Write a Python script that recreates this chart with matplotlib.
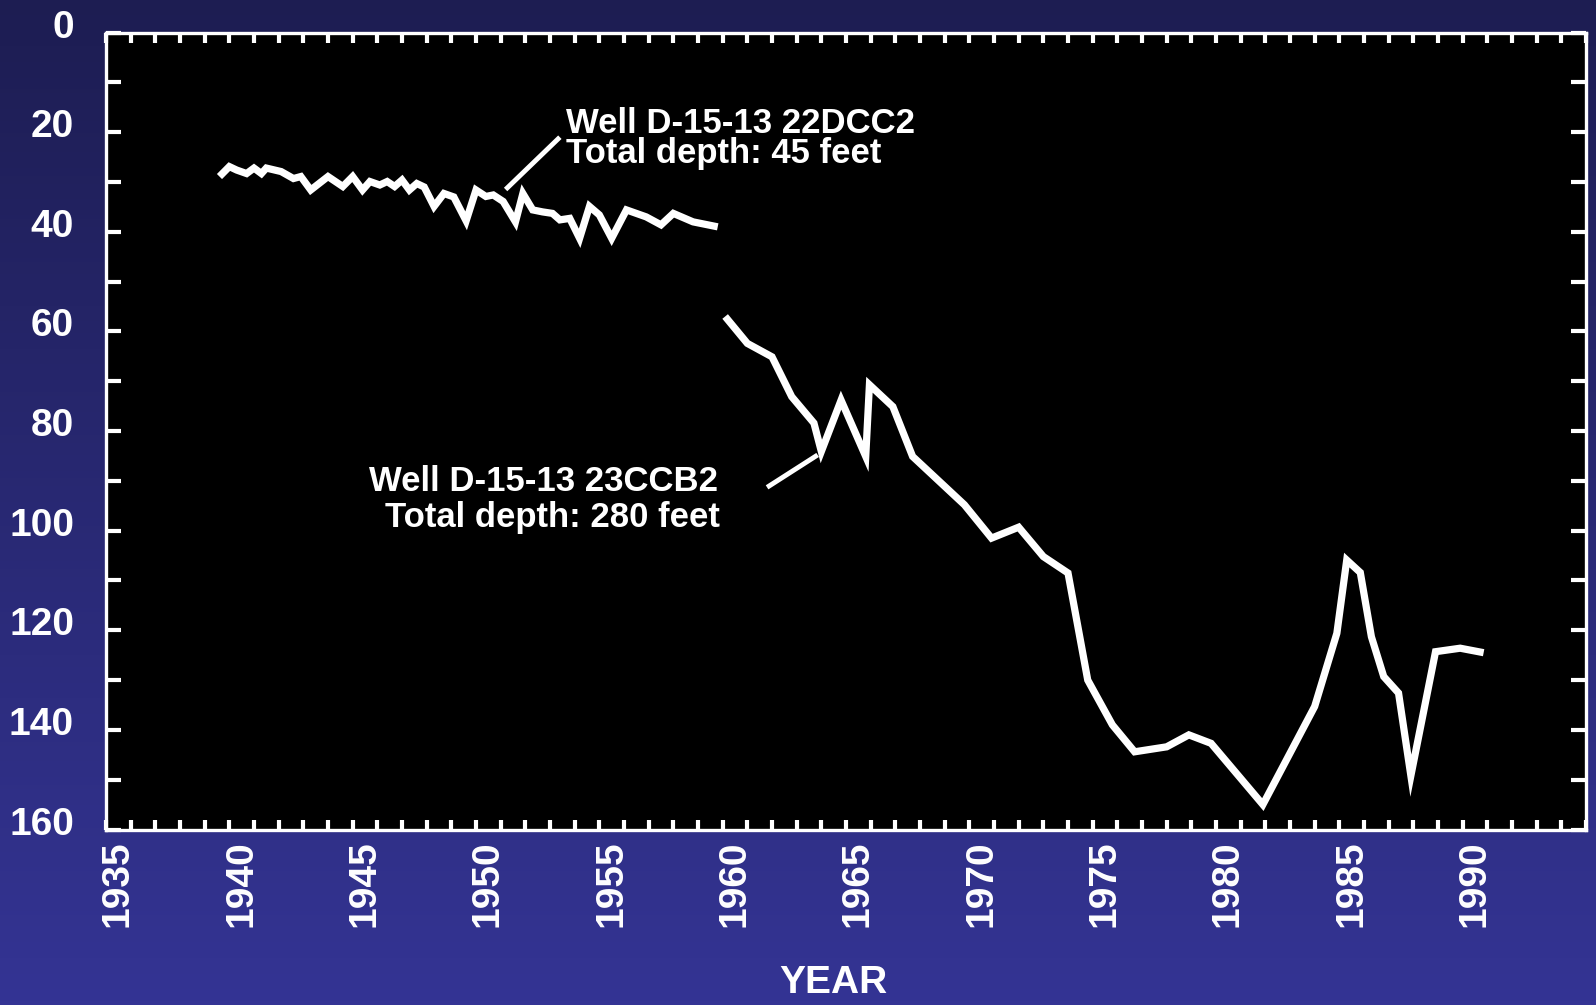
import numpy as np
import matplotlib
matplotlib.use("Agg")
import matplotlib.pyplot as plt
import matplotlib.transforms as mtransforms
from matplotlib.ticker import MultipleLocator

# Water level below land surface (feet) for two wells
years_22dcc2 = [1939.6, 1940.0, 1940.3, 1940.7, 1941.0, 1941.3, 1941.5, 1942.1, 1942.6,
                1942.9, 1943.3, 1944.0, 1944.6, 1945.0, 1945.4, 1945.7, 1946.1, 1946.4,
                1946.7, 1947.0, 1947.3, 1947.6, 1947.9, 1948.3, 1948.7, 1949.1, 1949.6,
                1950.0, 1950.4, 1950.7, 1951.1, 1951.6, 1951.9, 1952.3, 1952.7, 1953.1,
                1953.4, 1953.8, 1954.2, 1954.6, 1955.0, 1955.5, 1956.1, 1956.9, 1957.5,
                1958.0, 1958.8, 1959.8]
depth_22dcc2 = [28.9, 26.9, 27.6, 28.3, 27.2, 28.3, 27.2, 27.9, 29.3,
                28.9, 31.6, 28.9, 30.9, 28.9, 31.6, 29.9, 30.6, 29.9,
                30.9, 29.6, 31.6, 30.3, 31.0, 34.9, 32.3, 33.0, 37.8,
                31.6, 32.9, 32.6, 33.9, 38.0, 32.3, 35.6, 36.0, 36.3,
                37.6, 37.3, 41.3, 34.9, 36.6, 41.3, 35.6, 37.0, 38.6,
                36.3, 38.0, 39.0]

years_23ccb2 = [1960.1, 1961.0, 1962.0, 1962.8, 1963.7, 1964.0, 1964.8, 1965.8, 1965.95,
                1966.9, 1967.7, 1969.8, 1970.9, 1972.0, 1973.0, 1974.0, 1974.8, 1975.8,
                1976.7, 1978.0, 1978.9, 1979.8, 1981.9, 1984.0, 1984.9, 1985.3, 1985.85,
                1986.3, 1986.8, 1987.4, 1987.9, 1988.9, 1989.9, 1990.85]
depth_23ccb2 = [57.0, 62.4, 65.1, 73.1, 78.4, 84.1, 73.8, 85.1, 70.7,
                75.1, 85.1, 94.8, 101.5, 99.3, 105.2, 108.5, 130.0, 139.0,
                144.4, 143.4, 141.0, 142.7, 155.0, 135.3, 120.6, 105.9, 108.4,
                121.3, 129.3, 132.6, 149.2, 124.3, 123.6, 124.5]

x_ticks = [1935, 1940, 1945, 1950, 1955, 1960, 1965, 1970, 1975, 1980, 1985, 1990]
y_ticks = [0, 20, 40, 60, 80, 100, 120, 140, 160]

W, H, DPI = 1596, 1005, 100
fig = plt.figure(figsize=(W / DPI, H / DPI), dpi=DPI)

# vertical navy-to-blue backdrop
bg = fig.add_axes([0, 0, 1, 1], zorder=-10)
top_c = np.array([29, 29, 82]) / 255.0
bot_c = np.array([52, 52, 148]) / 255.0
t = np.linspace(0, 1, 256)[:, None]
grad = top_c[None, :] * (1 - t) + bot_c[None, :] * t
bg.imshow(grad[:, None, :], aspect="auto", extent=[0, 1, 0, 1], origin="upper")
bg.set_axis_off()

left, right = 106 / W, 1586 / W
bottom, top = 1 - 829.5 / H, 1 - 32.6 / H
ax = fig.add_axes([left, bottom, right - left, top - bottom])
ax.set_facecolor("black")

line_kw = dict(color="white", lw=5.2, solid_joinstyle="miter", solid_capstyle="butt")
ax.plot(years_22dcc2, depth_22dcc2, **line_kw)
ax.plot(years_23ccb2, depth_23ccb2, **line_kw)

ax.set_xlim(1935, 1995)
ax.set_ylim(160, 0)

for s in ax.spines.values():
    s.set_color("white")
    s.set_linewidth(2.4)

font = "Liberation Sans"
ax.xaxis.set_minor_locator(MultipleLocator(1))
ax.yaxis.set_minor_locator(MultipleLocator(10))
ax.set_xticks(x_ticks)
ax.set_xticklabels([str(v) for v in x_ticks], rotation=90,
                   fontsize=28, fontweight="bold", family=font, color="white")
ax.set_yticks(y_ticks)
ax.set_yticklabels([str(v) for v in y_ticks],
                   fontsize=28, fontweight="bold", family=font, color="white")

ax.tick_params(axis="x", which="both", direction="in", top=True, bottom=True,
               length=7.5, width=3, color="white", pad=8)
ax.tick_params(axis="y", which="both", direction="in", left=True, right=True,
               length=11, width=3, color="white", pad=23)

dx = mtransforms.ScaledTranslation(12 / DPI, 0, fig.dpi_scale_trans)
for lab in ax.get_xticklabels():
    lab.set_transform(lab.get_transform() + dx)
dy = mtransforms.ScaledTranslation(0, 5 / DPI, fig.dpi_scale_trans)
for lab in ax.get_yticklabels():
    lab.set_verticalalignment("center")
    lab.set_transform(lab.get_transform() + dy)

fig.text(833 / W, 1 - 983 / H, "YEAR", ha="center", va="center",
         fontsize=28, fontweight="bold", family=font, color="white")

# well labels with leader lines
txt_kw = dict(fontsize=25, fontweight="bold", family=font, color="white")
ax.text(1953.65, 18.2, "Well D-15-13 22DCC2", ha="left", va="center", **txt_kw)
ax.text(1953.65, 24.3, "Total depth: 45 feet", ha="left", va="center", **txt_kw)
ax.plot([1951.2, 1953.4], [31.5, 21.0], color="white", lw=3.5, solid_capstyle="butt")

ax.text(1959.8, 90.1, "Well D-15-13 23CCB2", ha="right", va="center", **txt_kw)
ax.text(1959.9, 97.3, "Total depth: 280 feet", ha="right", va="center", **txt_kw)
ax.plot([1961.8, 1963.85], [91.3, 84.8], color="white", lw=3.5, solid_capstyle="butt")

fig.savefig("out.png", dpi=DPI)
